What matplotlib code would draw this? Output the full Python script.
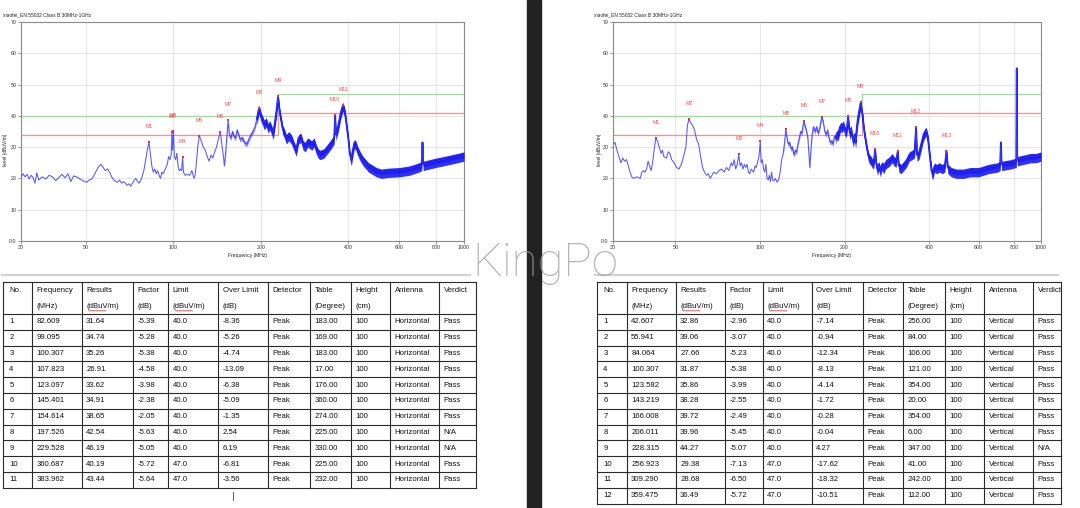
import numpy as np
import matplotlib
matplotlib.use('Agg')
import matplotlib.pyplot as plt
from matplotlib.patches import Rectangle
from matplotlib.ticker import FixedLocator, NullLocator

# ---------------- data ----------------
title_text = "xiaofei_EN 55032 Class B 30MHz-1GHz"
x_ticks = [30, 50, 100, 200, 400, 600, 800, 1000]
x_tick_labels = ["30", "50", "100", "200", "400", "600", "800", "1000"]
y_ticks = [0, 10, 20, 30, 40, 50, 60, 70]
y_tick_labels = ["0.0", "10", "20", "30", "40", "50", "60", "70"]

limit_freq = [30, 230, 230, 1000]
limit_level = [40, 40, 47, 47]
margin_level = [34, 34, 41, 41]

# Horizontal trace (left chart)
h_freq = [30, 30.5, 31, 31.5, 32, 32.5, 33, 33.5, 34, 34.5,
          35.5, 36.5, 37.5, 38.5, 39.5, 40.5, 41.5, 42.5, 43.5, 44.5,
          45.5, 46.5, 47.5, 48.5, 49.5, 50.5, 51.5, 52.5, 53.5, 54.5,
          55.5, 56.5, 57.5, 58.5, 59.5, 60.5, 61.5, 62.5, 63.5, 64.5,
          65.5, 66.5, 67.5, 68.5, 69.5, 70.5, 71.5, 72.5, 73.5, 74.5,
          75.5, 76.5, 77.5, 78.5, 79.5, 80.5, 81.5, 82.609, 83.5, 84.5,
          85.5, 86.5, 87.5, 88.5, 89.5, 90.5, 91.5, 92.5, 93.5, 94.5,
          95.5, 96.5, 97.5, 98.5, 99.095, 99.6, 100.307, 101, 102, 103,
          104, 105, 106, 107, 107.823, 108.5, 110, 112, 114, 116,
          118, 119, 120, 121.5, 123.097, 125, 127, 129, 131, 133,
          135, 137, 139, 141, 143, 145.401, 147, 149, 150, 151.5,
          153, 154.614, 156, 158, 160, 162, 164, 166, 168, 170,
          173, 176, 179, 182, 185, 188, 191, 194, 197.526, 200,
          203, 206, 209, 212, 215, 218, 221, 224, 227, 229.528,
          232, 235, 238, 241, 245, 250, 255, 260, 265, 270,
          275, 280, 285, 290, 295, 300, 305, 310, 315, 320,
          330, 340, 350, 358, 360.687, 363, 370, 377, 383.962, 390,
          395, 400, 405, 410, 415, 420, 425, 430, 440, 450,
          460, 470, 480, 500, 520, 550, 600, 650, 700, 716,
          720, 724, 800, 850, 900, 950, 1000]
h_level = [20.5, 21.5, 20.5, 21.3, 19.8, 21, 20.3, 18.5, 21.8, 19.5,
           20.5, 19.8, 21, 20.5, 19.3, 20.3, 21.3, 20.2, 21.5, 19,
           20.8, 20.5, 20, 19.5, 19, 18.8, 19.5, 19.8, 21, 22.5,
           23.8, 24.5, 23.5, 22.5, 23, 22, 20.5, 19.5, 19, 18.8,
           19.5, 18.5, 19, 18.5, 17.8, 18.3, 17.5, 18.5, 19.5, 20,
           19, 18.5, 19.5, 21, 23, 26, 29, 31.64, 28, 24,
           22, 23, 21.5, 22.5, 21, 20, 22, 21.5, 22.5, 23.5,
           24.5, 27, 26, 27.5, 34.74, 29, 35.26, 27, 26, 28,
           24, 22.5, 23, 22.5, 26.91, 22, 21, 21.3, 21, 22.5,
           20, 21, 24, 30, 33.62, 32, 30, 29, 27, 25.5,
           27.5, 26.5, 28.5, 30, 32.5, 34.91, 31, 27, 24, 28,
           33, 38.65, 34, 33, 35, 33.5, 33, 35.5, 34, 32.5,
           33, 31.5, 31, 32.5, 34, 35, 36.5, 39, 42.54, 40.5,
           39, 37.5, 38.5, 36.5, 37.5, 36, 34.5, 38, 42, 46.19,
           42, 39, 36, 35, 33, 34, 33, 31, 29, 33,
           33.5, 31, 30.5, 32, 31.5, 31, 32, 30, 28.5, 28,
           28.5, 30, 31.5, 33, 40.19, 34, 37, 41, 43.44, 41,
           37, 33, 28, 26, 29, 31.5, 31, 29.5, 27.5, 26,
           25, 24, 23.5, 22.5, 22, 22.3, 22.5, 23, 24, 24.5,
           31.5, 24.5, 25.5, 26, 26.5, 27, 27.5]

# Vertical trace (right chart)
v_freq = [30, 30.5, 31, 31.5, 32, 32.5, 33, 33.5, 34, 34.5,
          35, 35.5, 36.5, 37.5, 38, 38.5, 39, 39.5, 40, 40.5,
          41, 41.5, 42, 42.607, 43.2, 43.8, 44.5, 45, 45.5, 46.5,
          47.2, 47.8, 48.5, 49.5, 50.5, 51.5, 52.5, 53.5, 54.5, 55.2,
          55.941, 56.5, 57.5, 58.5, 59.5, 60.5, 61.5, 62.5, 63.5, 64.5,
          65.5, 66.5, 67.5, 68.5, 70, 71.5, 73, 74.5, 76, 77.5,
          79, 80, 81, 82, 83, 84.064, 85, 86, 87, 88,
          89, 90, 91, 92, 93, 94, 95, 96, 97, 98,
          99.2, 100.307, 101, 102, 103, 104, 105, 106, 107, 108,
          109, 110, 111, 112, 113.5, 115, 116.5, 118, 119.5, 121,
          122.5, 123.582, 124.5, 126, 127.5, 129, 130.5, 132, 133.5, 135,
          136.5, 138, 139.5, 141, 143.219, 145, 146.5, 148, 149.5, 150.5,
          152, 153.5, 155, 157, 159, 161, 163, 164.5, 166.008, 168,
          170, 172, 174, 176, 178, 180, 182, 184, 186, 188,
          190, 192, 194, 196, 198, 200, 202, 204, 206.011, 207.5,
          209, 211, 213, 215, 217, 219, 221, 223, 225, 228.315,
          230, 232, 234, 237, 240, 243, 246, 249, 252, 254.5,
          256.923, 259, 262, 265, 268, 272, 276, 280, 285, 290,
          295, 300, 305, 309.29, 312, 318, 325, 332, 340, 348,
          355, 359.475, 362, 368, 375, 382, 390, 396, 402, 408,
          412, 418, 425, 435, 445, 455, 461, 466, 480, 500,
          530, 560, 600, 650, 700, 716, 720, 724, 780, 817,
          819, 820, 821, 823, 870, 920, 960, 1000]
v_level = [31, 31.5, 29, 27, 25, 26.5, 25.5, 26, 24, 22,
           20.5, 20, 20.5, 20, 22, 22.5, 22, 23, 25.5, 24,
           22.5, 25, 29, 32.86, 32, 30, 28, 29, 27, 26.5,
           28.5, 28, 26, 25, 23.5, 23, 24.5, 27, 30, 37,
           39.06, 38, 37, 35.5, 32.5, 31, 27, 23.5, 22, 21,
           21.5, 20, 21, 22, 21.5, 22.5, 23, 22, 23.5, 22.5,
           25, 24, 26, 23, 24.5, 27.66, 24, 25, 23, 24.5,
           23.5, 24.5, 22, 21.5, 23, 22.5, 22, 24, 23.5, 25,
           27, 31.87, 25, 26, 23, 22, 24.5, 20, 19.5, 21,
           19, 22, 19.5, 19.2, 20, 18.8, 19.5, 22, 26, 28,
           32, 35.86, 33.5, 31, 31.5, 29.5, 30, 27.5, 29, 28.5,
           31, 33, 35, 34.5, 38.28, 36.5, 35, 33, 27, 23.5,
           30, 34.5, 36.5, 35, 36.5, 34.5, 36, 38, 39.72, 38,
           35, 34, 35.5, 33, 31.5, 32, 31, 33.5, 33, 34.5,
           34, 36, 37, 36.5, 37.5, 36, 35, 36, 39.96, 36,
           34.5, 36, 33.5, 32, 34, 31.5, 36, 39, 41, 44.27,
           42, 40, 36.5, 33, 30, 27.5, 26.5, 26, 25, 25.5,
           29.38, 25, 23, 24.5, 22.5, 24.5, 23.5, 25, 25.5, 26,
           27, 26, 25.5, 28.68, 24, 23.5, 24.5, 25.5, 27.5, 28,
           28.5, 36.49, 27.5, 28, 31, 34, 35.5, 33, 27.5, 22.5,
           21.5, 24, 23.5, 24, 23.5, 24, 28.8, 23.5, 22.5, 22,
           22, 22.5, 22.5, 23.5, 24, 24.5, 31.5, 24.5, 25, 25.5,
           49.5, 55.2, 42, 26, 26.5, 27, 27, 27.5]

# Markers / tables
h_mk_freq = [82.609, 99.095, 100.307, 107.823, 123.097, 145.401, 154.614,
             197.526, 229.528, 360.687, 383.962]
h_mk_level = [31.64, 34.74, 35.26, 26.91, 33.62, 34.91, 38.65,
              42.54, 46.19, 40.19, 43.44]
h_factor = [-5.39, -5.28, -5.38, -4.58, -3.98, -2.38, -2.05, -5.63, -5.05, -5.72, -5.64]
h_limit = [40.0, 40.0, 40.0, 40.0, 40.0, 40.0, 40.0, 40.0, 40.0, 47.0, 47.0]
h_over = [-8.36, -5.26, -4.74, -13.09, -6.38, -5.09, -1.35, 2.54, 6.19, -6.81, -3.56]
h_table_deg = [183.00, 169.00, 183.00, 17.00, 176.00, 360.00, 274.00, 225.00, 330.00, 225.00, 232.00]
h_verdict = ["Pass"] * 7 + ["N/A", "N/A", "Pass", "Pass"]

v_mk_freq = [42.607, 55.941, 84.064, 100.307, 123.582, 143.219, 166.008,
             206.011, 228.315, 256.923, 309.290, 359.475, 461.0]
v_mk_level = [32.86, 39.06, 27.66, 31.87, 35.86, 38.28, 39.72,
              39.96, 44.27, 29.38, 28.68, 36.49, 28.8]
v_factor = [-2.96, -3.07, -5.23, -5.38, -3.99, -2.55, -2.49, -5.45, -5.07, -7.13, -6.50, -5.72]
v_limit = [40.0] * 9 + [47.0] * 3
v_over = [-7.14, -0.94, -12.34, -8.13, -4.14, -1.72, -0.28, -0.04, 4.27, -17.62, -18.32, -10.51]
v_table_deg = [256.00, 84.00, 106.00, 121.00, 354.00, 20.00, 354.00, 6.00, 347.00, 41.00, 242.00, 112.00]
v_verdict = ["Pass"] * 8 + ["N/A"] + ["Pass"] * 3

header_top = ["No.", "Frequency", "Results", "Factor", "Limit", "Over Limit",
              "Detector", "Table", "Height", "Antenna", "Verdict"]
header_bot = ["", "(MHz)", "(dBuV/m)", "(dB)", "(dBuV/m)", "(dB)", "", "(Degree)", "(cm)", "", ""]
detector = "Peak"
height_cm = 100
watermark = "KingPo"

# ---------------- figure ----------------
W, H = 1080, 508
fig = plt.figure(figsize=(10.8, 5.08), dpi=100)
fig.patch.set_facecolor('white')
ov = fig.add_axes([0, 0, 1, 1])
ov.set_xlim(0, W)
ov.set_ylim(H, 0)
ov.axis('off')

CF = 'Liberation Sans'


def px_axes(x0, y0, x1, y1):
    return fig.add_axes([x0 / W, 1 - y1 / H, (x1 - x0) / W, (y1 - y0) / H])


def draw_chart(ax, freq, level, mk_f, mk_l, mid_from, dense_from):
    f = np.array(freq)
    l = np.array(level)
    ax.set_xscale('log')
    ax.set_xlim(30, 1000)
    ax.set_ylim(0, 70)
    ax.xaxis.set_major_locator(FixedLocator(x_ticks))
    ax.xaxis.set_minor_locator(NullLocator())
    ax.set_xticklabels(x_tick_labels)
    ax.set_yticks(y_ticks)
    ax.set_yticklabels(y_tick_labels)
    ax.grid(True, color='#e6e6e6', lw=0.8)
    ax.set_axisbelow(True)
    for s in ax.spines.values():
        s.set_color('#8a8a8a')
        s.set_linewidth(0.8)
    ax.tick_params(labelsize=3.8, length=2, width=0.6, color='#8a8a8a', pad=1.2,
                   labelcolor='#333333')
    for lab in ax.get_xticklabels() + ax.get_yticklabels():
        lab.set_family(CF)
    ax.plot(limit_freq, limit_level, color='#92e492', lw=0.9, zorder=2)
    ax.plot(limit_freq, margin_level, color='#f39494', lw=0.9, zorder=2)
    # moderately noisy region: narrow band
    m = f >= mid_from
    ax.fill_between(f[m], l[m] - 0.9, l[m] + 0.6, color='#3030ff', alpha=0.55,
                    lw=0, zorder=3)
    # dense noisy region: wider band
    m2 = f >= dense_from
    ax.fill_between(f[m2], l[m2] - 2.0, l[m2] + 1.0, color='#0e0ef0', alpha=0.85,
                    lw=0, zorder=3)
    ax.plot(f[m2], l[m2], color='#0000e8', lw=1.3, alpha=0.9, zorder=4)
    ax.plot(f, l, color='#3a3aff', lw=0.75, alpha=0.85, zorder=4)
    ax.plot(mk_f, mk_l, 's', color='#ff2a2a', ms=1.6, mew=0, zorder=5)
    for i, (x, y) in enumerate(zip(mk_f, mk_l)):
        ax.text(x, y + 5, f'M{i + 1}', color='#ff4a4a', fontsize=3.8, ha='center',
                va='center', family=CF, zorder=6)


axL = px_axes(21, 22, 464, 241)
draw_chart(axL, h_freq, h_level, h_mk_freq, h_mk_level, 150, 192)
axR = px_axes(613, 22, 1041, 241)
draw_chart(axR, v_freq, v_level, v_mk_freq, v_mk_level, 120, 185)

# chart surrounding texts
for (tx, ylx, xlx) in [(3, 6, 247.5), (594, 599, 831)]:
    ov.text(tx, 15, title_text, fontsize=3.5, family=CF, color='#222222', ha='left', va='center')
    ov.text(ylx, 150, 'level (dBuV/m)', fontsize=3.5, family=CF, color='#222222',
            rotation=90, ha='center', va='center')
    ov.text(xlx, 256, 'Frequency (MHz)', fontsize=3.6, family=CF, color='#222222',
            ha='center', va='center')

# dark divider
ov.add_patch(Rectangle((527, 0), 13.5, H, color='#222222', zorder=1))
# separators
ov.plot([2, 470], [275, 275], color='#d2d2d2', lw=1.6)
ov.plot([595, 1058], [275, 275], color='#d2d2d2', lw=1.6)
ov.plot([233, 233], [492, 500], color='#444444', lw=0.6)


def draw_table(cols_x, top, header_h, row_h, rows):
    n = len(rows)
    ys = [top, top + header_h] + [top + header_h + row_h * (i + 1) for i in range(n)]
    bottom = ys[-1]
    for y in ys:
        ov.plot([cols_x[0], cols_x[-1]], [y, y], color='#2a2a2a', lw=0.8, solid_capstyle='projecting')
    for x in cols_x:
        ov.plot([x, x], [top, bottom], color='#2a2a2a', lw=0.8, solid_capstyle='projecting')
    kw = dict(fontsize=5.6, family=CF, color='#111111', va='center', ha='left')
    for j, (t, b) in enumerate(zip(header_top, header_bot)):
        pad = 6 if j == 0 else 4.5
        ov.text(cols_x[j] + pad, top + 8.7, t, **kw)
        if b:
            ov.text(cols_x[j] + pad, top + 24, b, **kw)
        if b == "(dBuV/m)":
            xs = np.arange(cols_x[j] + pad + 2.6, cols_x[j] + pad + 20.5, 1.0)
            yy = top + 28.2 + 0.6 * (np.arange(len(xs)) % 2)
            ov.plot(xs, yy, color='#e03030', lw=0.5)
    for i, row in enumerate(rows):
        yc = top + header_h + row_h * (i + 0.5)
        for j, val in enumerate(row):
            pad = 6 if j == 0 else 4.5
            ov.text(cols_x[j] + pad, yc, val, **kw)


def make_rows(mk_f, mk_l, fac, lim, over, deg, ant, verd, n):
    rows = []
    for i in range(n):
        rows.append([str(i + 1), f'{mk_f[i]:.3f}', f'{mk_l[i]:.2f}', f'{fac[i]:.2f}',
                     f'{lim[i]:.1f}', f'{over[i]:.2f}', detector, f'{deg[i]:.2f}',
                     str(height_cm), ant, verd[i]])
    return rows


left_cols = [3.3, 32, 81.7, 132.7, 168.3, 218.3, 268.3, 310, 351, 390, 439.3, 476]
right_cols = [597.3, 626.7, 675.7, 725.3, 762.7, 811.7, 862.7, 903.3, 945, 984, 1033.3, 1060.7]
draw_table(left_cols, 282.3, 31.7, 15.8,
           make_rows(h_mk_freq, h_mk_level, h_factor, h_limit, h_over, h_table_deg,
                     'Horizontal', h_verdict, len(h_factor)))
draw_table(right_cols, 282.3, 31.7, 15.8,
           make_rows(v_mk_freq, v_mk_level, v_factor, v_limit, v_over, v_table_deg,
                     'Vertical', v_verdict, len(v_factor)))

# watermark
fig.text(545 / W, 1 - 276 / H, watermark, fontsize=34, color='#a0a0a0', alpha=0.8,
         ha='center', va='baseline', family='Roboto', weight='light', zorder=10)

fig.savefig('out.png', dpi=100)
